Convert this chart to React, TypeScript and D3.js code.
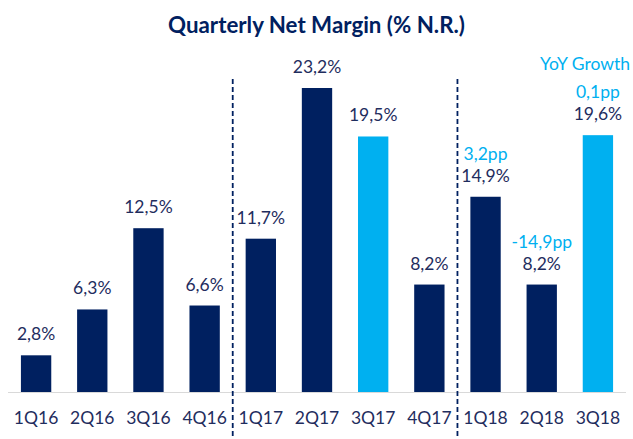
import React from 'react';
import * as d3 from 'd3';

// chart data
const quarters = ['1Q16', '2Q16', '3Q16', '4Q16', '1Q17', '2Q17', '3Q17', '4Q17', '1Q18', '2Q18', '3Q18'];
const netMargin = [2.8, 6.3, 12.5, 6.6, 11.7, 23.2, 19.5, 8.2, 14.9, 8.2, 19.6];
const highlightQuarters = ['3Q17', '3Q18'];
const yoyQuarters = ['1Q18', '2Q18', '3Q18'];
const yoyLabels = ['3,2pp', '-14,9pp', '0,1pp'];
const separatorAfter = ['4Q16', '4Q17'];

const W = 633;
const H = 439;
const NAVY = '#002060';
const LIGHT = '#00b0f0';
const TEXT = '#1f2d5e';
const FONT = 'Lato, "Open Sans", sans-serif';
const FS = 17.5;

const ptBr = d3.formatLocale({ decimal: ',', thousands: '.', grouping: [3], currency: ['R$', ''] });
const fmt = ptBr.format('.1f');

const App = () => {
  const x = d3.scaleBand<string>()
    .domain(quarters)
    .range([8, 626])
    .paddingInner(0.46)
    .paddingOuter(0.23);
  const y = d3.scaleLinear().domain([0, 23.2]).range([392, 88]);
  const step = x.step();
  const bw = x.bandwidth();

  return (
    <svg width={W} height={H} style={{ position: 'absolute', left: 0, top: 0, background: '#fff' }}>
      <text x={316.5} y={33} textAnchor="middle" fontFamily={FONT} fontWeight={700}
        fontSize={22.3} fill={NAVY}>Quarterly Net Margin (% N.R.)</text>

      {/* baseline */}
      <line x1={8} x2={626} y1={392.5} y2={392.5} stroke="#d9d9d9" strokeWidth={1.2} />

      {/* separators */}
      {separatorAfter.map((q) => {
        const sx = (x(q) as number) + bw + (step - bw) / 2;
        return (
          <line key={q} x1={sx} x2={sx} y1={79} y2={439} stroke={NAVY}
            strokeWidth={1.8} strokeDasharray="5,3" />
        );
      })}

      {quarters.map((q, i) => {
        const bx = x(q) as number;
        const cx = bx + bw / 2;
        const top = y(netMargin[i]);
        const yi = yoyQuarters.indexOf(q);
        return (
          <g key={q}>
            <rect x={bx} y={top} width={bw} height={y(0) - top}
              fill={highlightQuarters.includes(q) ? LIGHT : NAVY} />
            <text x={cx} y={top - 15} textAnchor="middle" fontFamily={FONT}
              fontSize={FS} fill={TEXT}>{fmt(netMargin[i])}%</text>
            {yi >= 0 && (
              <text x={cx} y={top - 37} textAnchor="middle" fontFamily={FONT}
                fontSize={FS} fill={LIGHT}>{yoyLabels[yi]}</text>
            )}
            <text x={cx} y={424} textAnchor="middle" fontFamily={FONT}
              fontSize={FS} fill={TEXT}>{q}</text>
          </g>
        );
      })}

      <text x={630} y={70} textAnchor="end" fontFamily={FONT} fontSize={FS}
        fill={LIGHT}>YoY Growth</text>
    </svg>
  );
};

export default App;
